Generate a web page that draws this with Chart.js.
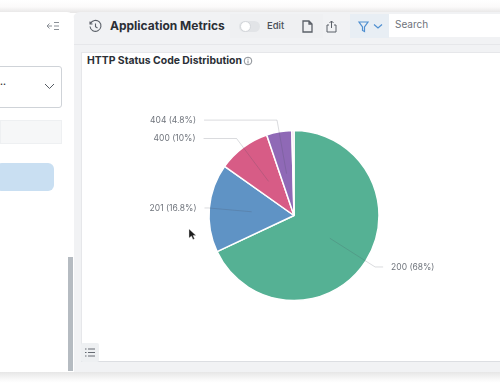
<!DOCTYPE html>
<html>
<head>
<meta charset="utf-8">
<title>Application Metrics</title>
<script src="https://cdn.jsdelivr.net/npm/chart.js@4"></script>
<style>
  html, body { margin: 0; padding: 0; background: #fff; overflow: hidden; }
  body { width: 500px; height: 383px; position: relative; font-family: Inter, "Noto Sans", sans-serif; filter: blur(0.35px); }
  .box { position: absolute; box-sizing: border-box; }
  svg.box { overflow: visible; fill: none; }
  #topShade { left: 0; top: 0; width: 500px; height: 13px; background: linear-gradient(#fff 0, #fbfafa 7px, #e9e8e8 12px); }
  #main { left: 73px; top: 12px; width: 427px; height: 360px; background: #f1f2f4; border-top-left-radius: 7px; }
  #sidebar { left: 0; top: 12px; width: 74px; height: 360px; background: #fff; border-top-right-radius: 7px; }
  #bottomShade { left: 0; top: 372px; width: 500px; height: 11px; background: linear-gradient(#e6e6e6, #fafafa 8px, #fff); }
  #select { left: -3px; top: 66px; width: 65px; height: 42px; border: 1px solid #cfd3d8; border-radius: 3px; }
  #field { left: 0; top: 120px; width: 62px; height: 24px; background: #f6f7f8; border: 1px solid #eef0f2; }
  #action { left: -4px; top: 163px; width: 58px; height: 28px; background: #c9dff2; border-radius: 6px; }
  #scroll { left: 68px; top: 257px; width: 5px; height: 114px; background: #b5bbc1; }
  #appTitle { left: 110px; top: 18px; font-size: 12px; font-weight: 700; color: #2b2f36; white-space: nowrap; }
  #headerLine { left: 74px; top: 44px; width: 426px; height: 1px; background: #e6e7ea; }
  #tools { left: 230px; top: 14px; width: 93px; height: 24px; background: #eff0f2; }
  #editLabel { left: 267px; top: 20px; font-size: 9.5px; font-weight: 500; color: #4a4f57; }
  #toggle { left: 239px; top: 21px; width: 21px; height: 11px; border-radius: 6px; background: #e2e4e7; }
  #knob { left: 240px; top: 21px; width: 11px; height: 11px; border-radius: 50%; background: #fff; border: 1px solid #d3d6da; }
  #filterBtn { left: 350px; top: 14px; width: 39px; height: 24px; background: #e8eef4; }
  #search { left: 389px; top: 14px; width: 111px; height: 23px; background: #fff; }
  #searchLabel { left: 395px; top: 18px; font-size: 10px; color: #6e737b; }
  #panel { left: 81px; top: 52px; width: 419px; height: 310px; background: #fff; border-top: 1px solid #e6e7ea; border-left: 1px solid #e6e7ea; border-bottom: 1px solid #dcdee2; }
  #panelTitle { left: 87px; top: 54px; font-size: 10.4px; font-weight: 700; color: #2b2f36; white-space: nowrap; }
  #listBtn { left: 81px; top: 343px; width: 18px; height: 19px; background: #eef0f2; border-radius: 2px; }
  #chartWrap { left: 124px; top: 75px; width: 340px; height: 281px; }
</style>
</head>
<body>
<div class="box" id="topShade"></div>
<div class="box" id="main"></div>
<div class="box" id="sidebar"></div>
<div class="box" id="bottomShade"></div>

<svg class="box" style="left:46px;top:20px" width="14" height="12" stroke="#8b9097" stroke-width="1">
  <path d="M6 6H1M3.500 3.500L1 6l2.500 2.500M8 2.500h5M8 6h5M8 9.500h5"/>
</svg>
<div class="box" id="select"></div>
<div class="box" style="left:0;top:76px;font-size:9px;font-weight:700;color:#333">..</div>
<svg class="box" style="left:44px;top:83px" width="11" height="7" stroke="#555b63" stroke-width="1"><path d="M1 1l4.500 4.500L10 1"/></svg>
<div class="box" id="field"></div>
<div class="box" id="action"></div>
<div class="box" id="scroll"></div>

<svg class="box" style="left:89px;top:20px" width="13" height="13" stroke="#5b6068" stroke-width="1.1">
  <path d="M1.500 3.500A5.500 5.500 0 1 1 1 6.500M1 1.500v2.500h2.500M6.500 3.500v3.200l2 1.300"/>
</svg>
<div class="box" id="appTitle">Application Metrics</div>
<div class="box" id="tools"></div>
<div class="box" id="toggle"></div>
<div class="box" id="knob"></div>
<div class="box" id="editLabel">Edit</div>
<svg class="box" style="left:302px;top:20px" width="11" height="13" stroke="#5b6068" stroke-width="1.3">
  <path d="M1 1h6l3 3v8H1zM7 1v3h3"/>
</svg>
<svg class="box" style="left:326px;top:20px" width="11" height="13" stroke="#5b6068" stroke-width="1">
  <path d="M3 5H1v7h9V5H8M5.500 8V1M3.500 3l2-2 2 2"/>
</svg>
<div class="box" id="filterBtn"></div>
<svg class="box" style="left:358px;top:20px" width="28" height="13" stroke="#4f8fd0" stroke-width="1.2">
  <path d="M1 2h9L6.500 7v4.500L4.500 10.500V7zM16 4.500l4 3.500 4-3.500"/>
</svg>
<div class="box" id="search"></div>
<div class="box" id="searchLabel">Search</div>
<div class="box" id="headerLine"></div>

<div class="box" id="panel"></div>
<div class="box" id="panelTitle">HTTP Status Code Distribution</div>
<svg class="box" style="left:243px;top:56px" width="10" height="10" stroke="#6c7178" stroke-width="0.8">
  <circle cx="5" cy="5" r="3.800"/><path d="M5 4.500v3M5 2.700v1"/>
</svg>
<div class="box" id="chartWrap"><canvas id="statusChart" width="340" height="281"></canvas></div>
<div class="box" id="listBtn"></div>
<svg class="box" style="left:85px;top:348px" width="10" height="9" stroke="#666b72" stroke-width="1">
  <path d="M0 1h1.500M3 1h7M0 4.500h1.500M3 4.500h7M0 8h1.500M3 8h7"/>
</svg>
<svg class="box" style="left:188px;top:228px" width="10" height="14">
  <path d="M1 1v9l2.500-2 1.500 3.500 1.500-.7L5 7.500h3z" fill="#1c1c1c" stroke="#ddd" stroke-width="0.4"/>
</svg>

<script>
const categories = ['200', '201', '400', '404', ''];
const percents = [68, 16.8, 10, 4.8, 0.4];
const sliceColors = ['#55b194', '#5f93c5', '#d75c86', '#8f69b6', '#e0c4e2'];
const leaderReach = [1.13, 1.01, 1.13, 1.14];
const leaderRun = [8, 4, 33, 73];

const pieLabels = {
  id: 'pieLabels',
  afterDatasetsDraw(chart) {
    const ctx = chart.ctx;
    ctx.save();
    ctx.font = '8.5px Inter, "Noto Sans", sans-serif';
    ctx.textBaseline = 'middle';
    chart.getDatasetMeta(0).data.forEach((arc, i) => {
      if (!categories[i]) return;
      const mid = (arc.startAngle + arc.endAngle) / 2;
      const dx = Math.cos(mid), dy = Math.sin(mid);
      const side = dx >= 0 ? 1 : -1;
      const elbowX = arc.x + dx * arc.outerRadius * leaderReach[i];
      const elbowY = arc.y + dy * arc.outerRadius * leaderReach[i];
      const endX = elbowX + side * leaderRun[i];
      ctx.strokeStyle = 'rgba(70,75,90,0.2)';
      ctx.lineWidth = 1;
      ctx.beginPath();
      ctx.moveTo(arc.x + dx * arc.outerRadius / 2, arc.y + dy * arc.outerRadius / 2);
      ctx.lineTo(elbowX, elbowY);
      ctx.lineTo(endX, elbowY);
      ctx.stroke();
      ctx.fillStyle = '#6f747c';
      ctx.textAlign = side > 0 ? 'left' : 'right';
      ctx.fillText(categories[i] + ' (' + percents[i] + '%)', endX + side * 8, elbowY);
    });
    ctx.restore();
  }
};

new Chart(document.getElementById('statusChart'), {
  type: 'pie',
  data: {
    labels: categories,
    datasets: [{
      data: percents,
      backgroundColor: sliceColors,
      borderColor: '#ffffff',
      borderWidth: 1.5,
      radius: 85
    }]
  },
  options: {
    responsive: false,
    animation: false,
    plugins: { legend: { display: false }, tooltip: { enabled: false } }
  },
  plugins: [pieLabels]
});
</script>
</body>
</html>
